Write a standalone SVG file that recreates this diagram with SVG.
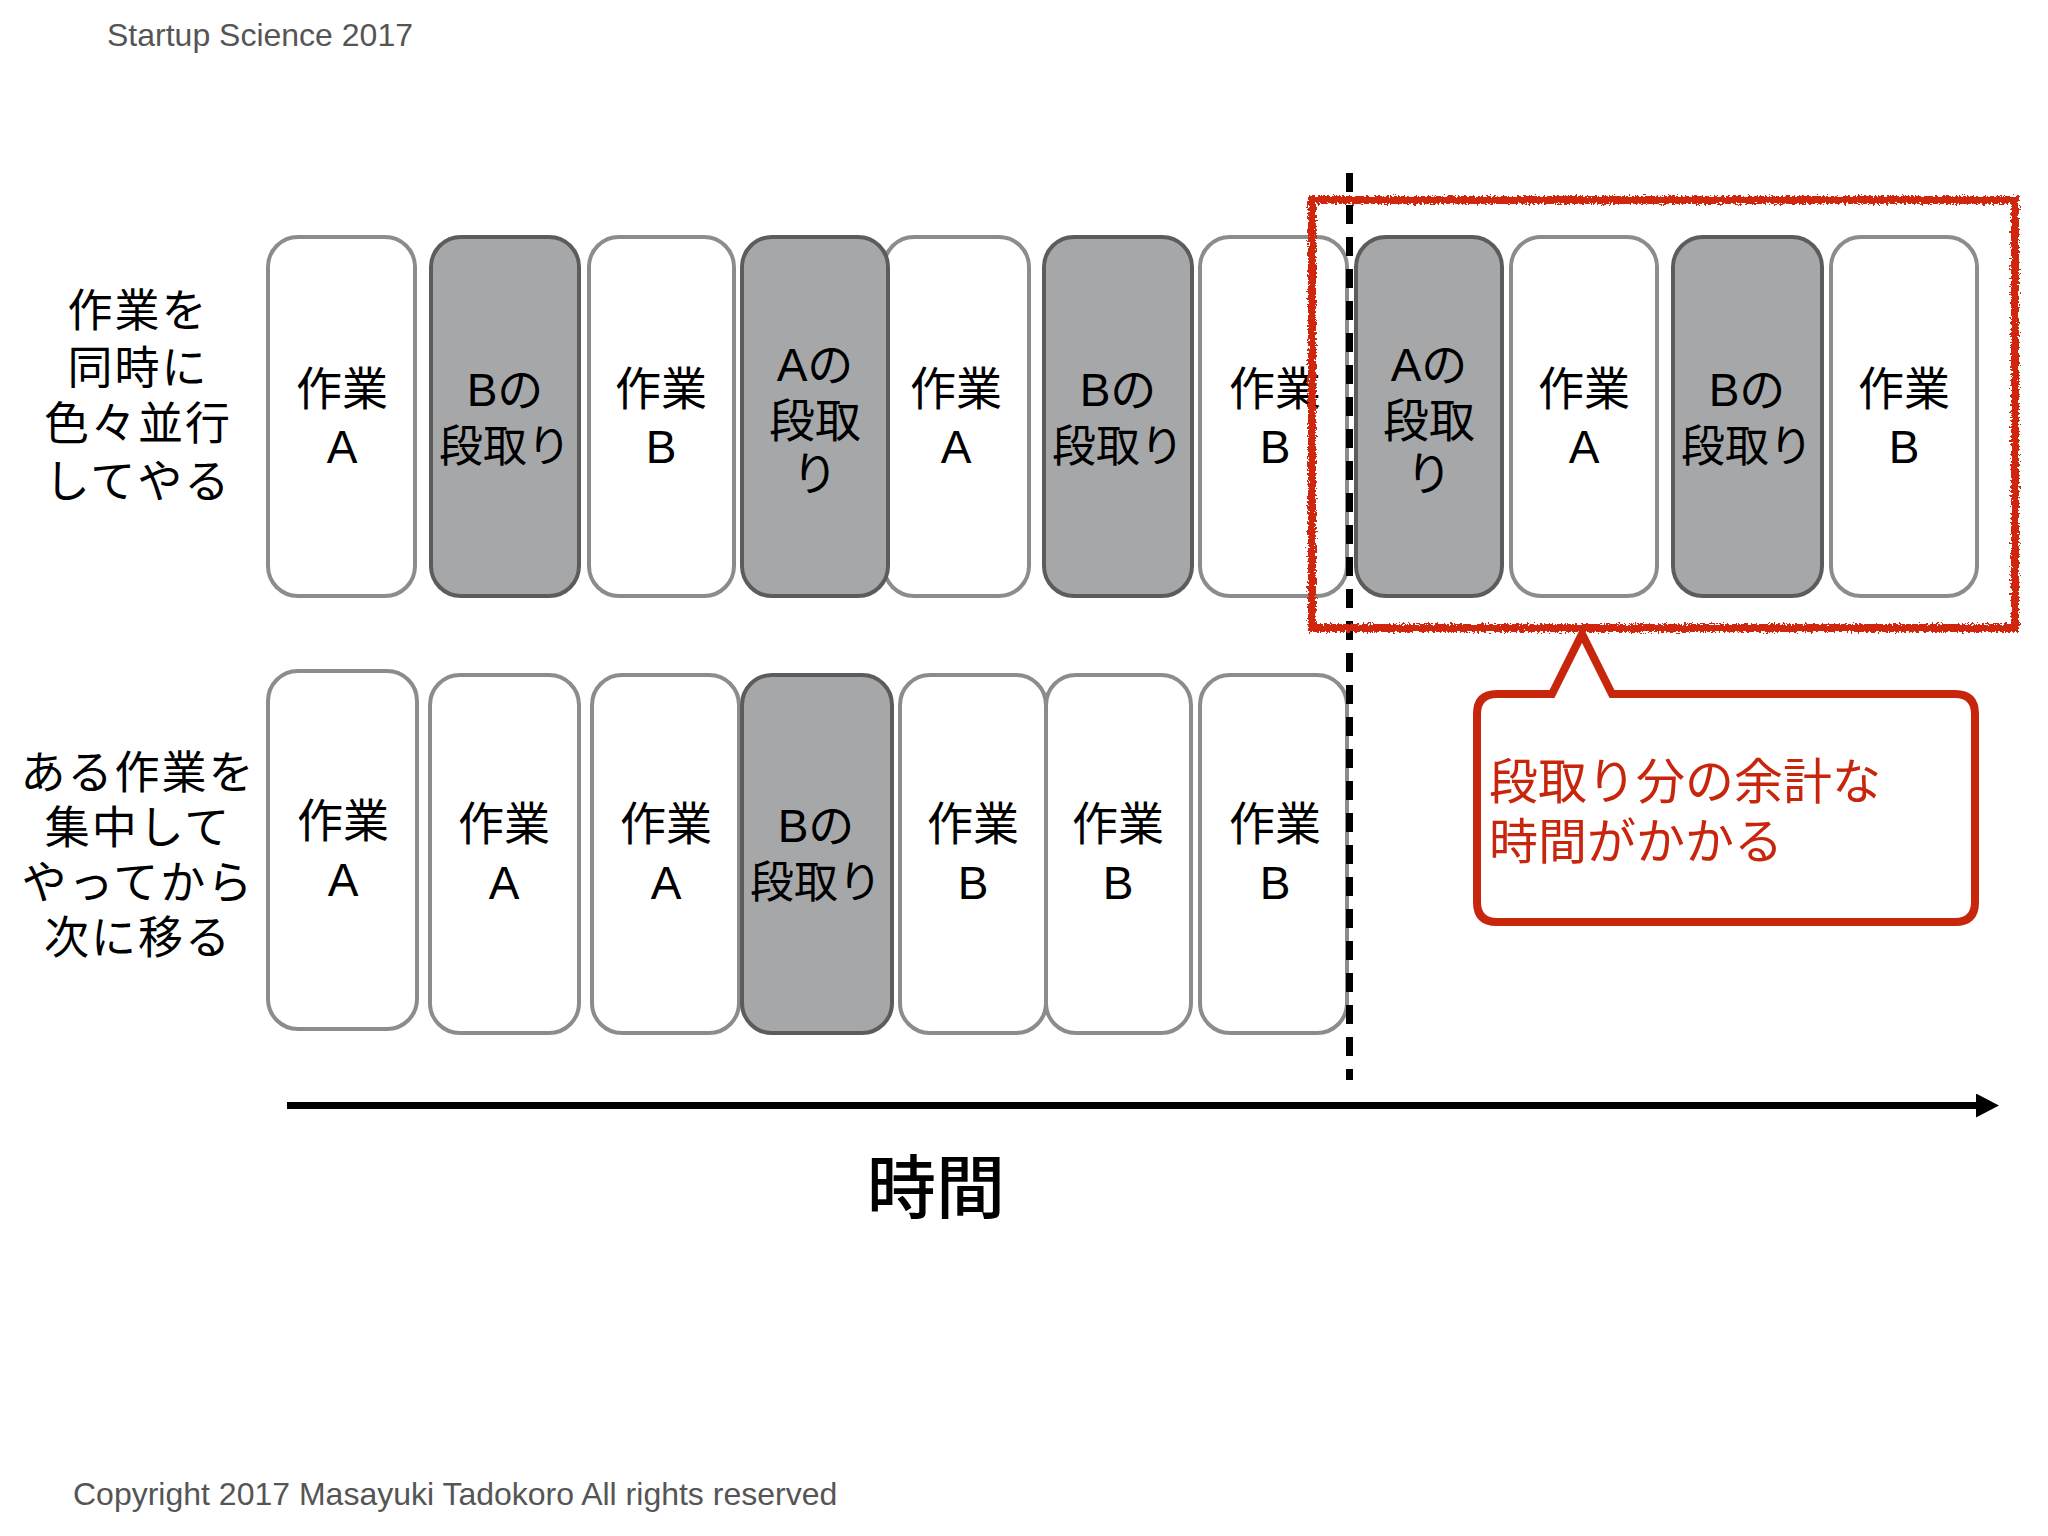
<svg xmlns="http://www.w3.org/2000/svg" width="2048" height="1536" viewBox="0 0 2048 1536">
<style>
.w{fill:#fff;stroke:#8c8c8c;stroke-width:4}
.d{fill:#a6a7a9;stroke:#5c5c5c;stroke-width:4}
.t{font-family:"Liberation Sans","Noto Sans CJK JP",sans-serif;font-size:46px;fill:#000;text-anchor:middle}
.s{font-size:44px}
.lbl{font-family:"Noto Sans CJK JP",sans-serif;font-size:45px;fill:#000;text-anchor:middle;letter-spacing:2px}
.meta{font-family:"Liberation Sans",sans-serif;font-size:32px;fill:#555}
.red{font-family:"Noto Sans CJK JP",sans-serif;font-size:49px;fill:#c8260c}
</style>
<defs>
<filter id="rough" x="-5%" y="-5%" width="110%" height="110%">
<feTurbulence type="fractalNoise" baseFrequency="0.45" numOctaves="2" seed="3" result="n"/>
<feDisplacementMap in="SourceGraphic" in2="n" scale="7" xChannelSelector="R" yChannelSelector="G"/>
</filter>
<marker id="ah" viewBox="0 0 23 24" refX="0" refY="12" markerWidth="23" markerHeight="24" markerUnits="userSpaceOnUse" orient="auto">
<path d="M0,0 L23,12 L0,24 Z" fill="#000"/>
</marker>
</defs>
<rect width="2048" height="1536" fill="#fff"/>
<text class="meta" x="107" y="46">Startup Science 2017</text>
<text class="meta" x="73" y="1505">Copyright 2017 Masayuki Tadokoro All rights reserved</text>

<g id="label-parallel">
<text class="lbl" x="138" y="327">作業を</text>
<text class="lbl" x="138" y="384">同時に</text>
<text class="lbl" x="138" y="440">色々並行</text>
<text class="lbl" x="138" y="498">してやる</text>
</g>
<g id="label-focus">
<text class="lbl" x="138" y="789">ある作業を</text>
<text class="lbl" x="138" y="844">集中して</text>
<text class="lbl" x="138" y="899">やってから</text>
<text class="lbl" x="138" y="954">次に移る</text>
</g>

<!-- top row -->
<g id="t1"><rect class="w" x="268" y="237" width="147" height="359" rx="30"/><text class="t" x="342" y="405">作業</text><text class="t" x="342" y="463">A</text></g>
<g id="t2"><rect class="d" x="431" y="237" width="148" height="359" rx="30"/><text class="t" x="505" y="406">Bの</text><text class="t s" x="505" y="462">段取り</text></g>
<g id="t3"><rect class="w" x="589" y="237" width="145" height="359" rx="30"/><text class="t" x="661" y="405">作業</text><text class="t" x="661" y="463">B</text></g>
<g id="t5"><rect class="w" x="884" y="237" width="145" height="359" rx="30"/><text class="t" x="956" y="405">作業</text><text class="t" x="956" y="463">A</text></g>
<g id="t4"><rect class="d" x="742" y="237" width="146" height="359" rx="30"/><text class="t" x="815" y="381">Aの</text><text class="t" x="815" y="437">段取</text><text class="t" x="815" y="490">り</text></g>
<g id="t6"><rect class="d" x="1044" y="237" width="148" height="359" rx="30"/><text class="t" x="1118" y="406">Bの</text><text class="t s" x="1118" y="462">段取り</text></g>
<g id="t7"><rect class="w" x="1200" y="237" width="147" height="359" rx="30"/><text class="t" x="1275" y="405">作業</text><text class="t" x="1275" y="463">B</text></g>
<g id="t8"><rect class="d" x="1356" y="237" width="146" height="359" rx="30"/><text class="t" x="1429" y="381">Aの</text><text class="t" x="1429" y="437">段取</text><text class="t" x="1429" y="490">り</text></g>
<g id="t9"><rect class="w" x="1511" y="237" width="146" height="359" rx="30"/><text class="t" x="1584" y="405">作業</text><text class="t" x="1584" y="463">A</text></g>
<g id="t10"><rect class="d" x="1673" y="237" width="149" height="359" rx="30"/><text class="t" x="1747" y="406">Bの</text><text class="t s" x="1747" y="462">段取り</text></g>
<g id="t11"><rect class="w" x="1831" y="237" width="146" height="359" rx="30"/><text class="t" x="1904" y="405">作業</text><text class="t" x="1904" y="463">B</text></g>

<!-- bottom row -->
<g id="b1"><rect class="w" x="268" y="671" width="149" height="358" rx="30"/><text class="t" x="343" y="837">作業</text><text class="t" x="343" y="896">A</text></g>
<g id="b2"><rect class="w" x="430" y="675" width="149" height="358" rx="30"/><text class="t" x="504" y="840">作業</text><text class="t" x="504" y="899">A</text></g>
<g id="b3"><rect class="w" x="592" y="675" width="147" height="358" rx="30"/><text class="t" x="666" y="840">作業</text><text class="t" x="666" y="899">A</text></g>
<g id="b4"><rect class="d" x="742" y="675" width="150" height="358" rx="30"/><text class="t" x="816" y="842">Bの</text><text class="t s" x="816" y="898">段取り</text></g>
<g id="b5"><rect class="w" x="900" y="675" width="146" height="358" rx="30"/><text class="t" x="973" y="840">作業</text><text class="t" x="973" y="899">B</text></g>
<g id="b6"><rect class="w" x="1046" y="675" width="145" height="358" rx="30"/><text class="t" x="1118" y="840">作業</text><text class="t" x="1118" y="899">B</text></g>
<g id="b7"><rect class="w" x="1200" y="675" width="147" height="358" rx="30"/><text class="t" x="1275" y="840">作業</text><text class="t" x="1275" y="899">B</text></g>

<g id="connectors">
<line x1="1349.5" y1="173" x2="1349.5" y2="1080" stroke="#000" stroke-width="7" stroke-dasharray="19 13"/>
<line x1="287" y1="1105.5" x2="1976" y2="1105.5" stroke="#000" stroke-width="7" marker-end="url(#ah)"/>
</g>

<g id="highlight">
<rect x="1312" y="200" width="703" height="428" fill="none" stroke="#d0260e" stroke-width="8" filter="url(#rough)"/>
</g>

<g id="callout">
<path d="M1497 694 H1552 L1582 634 L1612 694 H1955 Q1975 694 1975 714 V902 Q1975 922 1955 922 H1497 Q1477 922 1477 902 V714 Q1477 694 1497 694 Z" fill="#fff" stroke="#c8260c" stroke-width="8" stroke-linejoin="miter"/>
<text class="red" x="1489" y="799">段取り分の余計な</text>
<text class="red" x="1489" y="859">時間がかかる</text>
</g>

<g id="axis-label">
<text x="936" y="1213" font-family="Noto Sans CJK JP, sans-serif" font-size="69" font-weight="500" text-anchor="middle" fill="#000">時間</text>
</g>
</svg>
